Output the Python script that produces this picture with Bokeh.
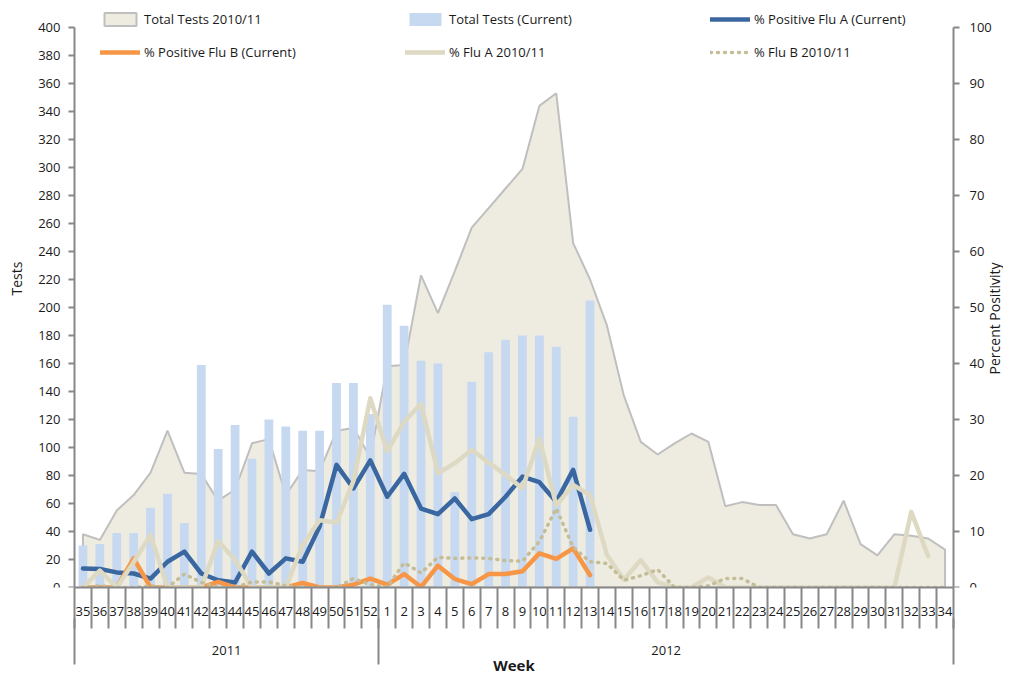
import math
from bokeh.plotting import figure
from bokeh.models import Range1d, LinearAxis, FixedTicker, Legend, LegendItem, Label
from bokeh.embed import file_html
from bokeh.resources import INLINE

# ---------------- data ----------------
weeks = [str(w) for w in list(range(35, 53)) + list(range(1, 35))]
years = ["2011", "2012"]
year_sizes = [18, 34]

tests_prev = [38, 34, 55, 66, 82, 112, 82, 81, 62, 70, 103, 106, 66, 84, 83, 112, 114, 93,
              158, 159, 223, 196, 226, 257, 271, 285, 299, 344, 353, 246, 220, 187, 137, 104,
              95, 103, 110, 104, 58, 61, 59, 59, 38, 35, 38, 62, 31, 23, 38, 37, 35, 27]
tests_cur = [30, 31, 39, 39, 57, 67, 46, 159, 99, 116, 92, 120, 115, 112, 112, 146, 146, 124,
             202, 187, 162, 160, 68, 147, 168, 177, 180, 180, 172, 122, 205]
flu_a_cur = [3.4, 3.3, 2.7, 2.5, 1.6, 4.6, 6.4, 2.5, 1.3, 0.9, 6.4, 2.5, 5.2, 4.6, 10.9, 21.9,
             17.7, 22.7, 16.2, 20.3, 14.1, 13.1, 15.9, 12.2, 13.1, 16.2, 19.8, 18.8, 15.3, 21.0, 10.3]
flu_b_cur = [0, 0, 0, 5.2, 0, 0, 0, 0, 1.0, 0, 0, 0, 0, 0.8, 0, 0, 0.5, 1.6,
             0.5, 2.4, 0.1, 3.9, 1.5, 0.6, 2.4, 2.4, 2.9, 6.1, 5.1, 7.0, 2.2]
flu_a_prev = [0, 3.0, 0, 4.5, 9.4, 0, 0, 0, 8.3, 4.9, 0, 0, 0, 7.6, 12.0, 11.6, 19.0, 33.8,
              24.3, 29.6, 32.8, 20.4, 22.2, 24.6, 22.3, 20.1, 17.7, 26.6, 14.7, 18.3, 16.5, 5.8,
              1.4, 4.9, 0.9, 0, 0, 1.8, 0, 0, 0, 0, 0, 0, 0, 0, 0, 0, 0, 13.5, 5.6]
flu_b_prev = [0, 0.3, 0, 0, 0.3, 0, 2.4, 0.9, 0, 0, 1.0, 1.0, 0.3, 0, 0, 0, 1.6, 0.5,
              0.1, 4.4, 2.6, 5.4, 5.2, 5.3, 5.2, 4.8, 4.7, 8.2, 14.1, 7.2, 4.6, 4.3, 1.3, 2.1,
              3.2, 0, 0, 0.3, 1.6, 1.6, 0, 0, 0, 0, 0, 0, 0, 0, 0, 0, 0, 0]

TESTS_MAX = 400
PCT_MAX = 100
FONT = "Open Sans"
AXIS_GRAY = "#878787"
TEXT = "#1a1a1a"

# ---------------- layout (pixels) ----------------
W, H = 1003, 677
TOP, BOTTOM = 2, 90
PLOT_LEFT = 74                      # pixel of the left value axis
PLOT_W = 879                        # pixels spanned by the 52 weeks
AXIS_H = 560                        # pixels spanned by 0..400
FRAME_H = H - TOP - BOTTOM
n = len(weeks)
cat_w = PLOT_W / n
x_lo = -PLOT_LEFT / cat_w
x_hi = (W - PLOT_LEFT) / cat_w
head = FRAME_H / AXIS_H

def px_x(px):           # canvas x pixel -> x data
    return (px - PLOT_LEFT) / cat_w

def px_y(py, vmax):     # canvas y pixel -> value on an axis of 0..vmax
    return (TOP + FRAME_H - py) / AXIS_H * vmax

centers = [i + 0.5 for i in range(n)]

p = figure(width=W, height=H, output_backend="svg", toolbar_location=None,
           x_range=Range1d(x_lo, x_hi), y_range=Range1d(0, TESTS_MAX * head),
           min_border_left=0, min_border_right=0, min_border_top=TOP,
           min_border_bottom=BOTTOM, x_axis_location=None, y_axis_location=None)
p.extra_y_ranges = {"pct": Range1d(0, PCT_MAX * head)}
p.outline_line_color = None
p.xgrid.grid_line_color = None
p.ygrid.grid_line_color = None
p.background_fill_color = "white"

# ---------------- glyphs ----------------
area_x = [centers[0]] + centers + [centers[-1]]
area_y = [0] + tests_prev + [0]
r_area = p.patch(area_x, area_y, fill_color="#EEECE1", line_color="#BFBFBF", line_width=2)
r_bar = p.vbar(x=centers[:len(tests_cur)], top=tests_cur, width=0.52,
               fill_color="#C6D9F1", line_color=None)
r_a = p.line(centers[:len(flu_a_cur)], flu_a_cur, y_range_name="pct", line_color="#3A67A0",
             line_width=4.5, line_join="round", line_cap="round")
r_b = p.line(centers[:len(flu_b_cur)], flu_b_cur, y_range_name="pct", line_color="#F79646",
             line_width=4.5, line_join="round", line_cap="round")
r_ap = p.line(centers[:len(flu_a_prev)], flu_a_prev, y_range_name="pct", line_color="#DDD9C3",
              line_width=4.5, line_join="round", line_cap="round")
r_bp = p.line(centers[:len(flu_b_prev)], flu_b_prev, y_range_name="pct", line_color="#C4BD97",
              line_width=3.5, line_dash="1 6", line_cap="round")

# ---------------- axes ----------------
def style_axis(ax):
    ax.axis_line_color = AXIS_GRAY
    ax.axis_line_width = 2
    ax.major_tick_line_color = AXIS_GRAY
    ax.major_tick_line_width = 2
    ax.major_tick_in = 0
    ax.minor_tick_in = 0
    ax.major_label_text_font = FONT
    ax.major_label_text_font_size = "13px"
    ax.major_label_text_color = TEXT

yl = LinearAxis(ticker=FixedTicker(ticks=list(range(0, TESTS_MAX + 1, 20))),
                bounds=(0, TESTS_MAX), fixed_location=0)
style_axis(yl)
yl.major_tick_out = 6
yl.minor_tick_line_color = None
yl.major_label_standoff = 8
p.add_layout(yl, "left")

yr = LinearAxis(y_range_name="pct", ticker=FixedTicker(ticks=list(range(0, PCT_MAX + 1, 10))),
                bounds=(0, PCT_MAX), fixed_location=n)
style_axis(yr)
yr.major_tick_out = 6
yr.minor_tick_line_color = None
yr.major_label_standoff = 10
p.add_layout(yr, "right")

# week level
xw = LinearAxis(ticker=FixedTicker(ticks=centers, minor_ticks=list(range(n + 1))),
                major_label_overrides={c: w for c, w in zip(centers, weeks)}, bounds=(0, n))
style_axis(xw)
xw.major_tick_line_color = None
xw.major_tick_out = 0
xw.minor_tick_out = 41
xw.minor_tick_line_color = AXIS_GRAY
xw.minor_tick_line_width = 2
xw.major_label_standoff = -22
p.add_layout(xw, "below")

# year level
bounds = [0]
for s in year_sizes:
    bounds.append(bounds[-1] + s)
ymid = [(bounds[i] + bounds[i + 1]) / 2 for i in range(len(years))]
xy = LinearAxis(ticker=FixedTicker(ticks=ymid, minor_ticks=bounds),
                major_label_overrides={m: y for m, y in zip(ymid, years)}, bounds=(0, n))
style_axis(xy)
xy.axis_line_color = None
xy.major_tick_line_color = None
xy.major_tick_out = 0
xy.minor_tick_out = 46
xy.minor_tick_line_color = AXIS_GRAY
xy.minor_tick_line_width = 2
xy.major_label_standoff = -19
p.add_layout(xy, "below")

# axis title "Week", centred on the week span
xt = LinearAxis(ticker=FixedTicker(ticks=[n / 2], minor_ticks=[]),
                major_label_overrides={n / 2: "Week"}, bounds=(0, n))
style_axis(xt)
xt.axis_line_color = None
xt.major_tick_line_color = None
xt.minor_tick_line_color = None
xt.major_tick_out = 0
xt.minor_tick_out = 0
xt.major_label_standoff = -3
xt.major_label_text_font_style = "bold"
xt.major_label_text_font_size = "15px"
p.add_layout(xt, "below")

# vertical axis titles
p.add_layout(Label(x=px_x(16), y=px_y(278, TESTS_MAX), text="Tests", angle=math.pi / 2,
                   text_align="center", text_baseline="middle", text_font=FONT,
                   text_font_size="14px", text_color=TEXT))
p.add_layout(Label(x=px_x(994), y=px_y(318, PCT_MAX), y_range_name="pct",
                   text="Percent Positivity", angle=math.pi / 2,
                   text_align="center", text_baseline="middle", text_font=FONT,
                   text_font_size="14px", text_color=TEXT))

# ---------------- legend ----------------
legend = Legend(items=[
    LegendItem(label="Total Tests 2010/11", renderers=[r_area]),
    LegendItem(label="Total Tests (Current)", renderers=[r_bar]),
    LegendItem(label="% Positive Flu A (Current)", renderers=[r_a]),
    LegendItem(label="% Positive Flu B (Current)", renderers=[r_b]),
    LegendItem(label="% Flu A 2010/11", renderers=[r_ap]),
    LegendItem(label="% Flu B 2010/11", renderers=[r_bp]),
], orientation="horizontal", ncols=3, location=(100, 526))
legend.background_fill_alpha = 0
legend.border_line_color = None
legend.padding = 0
legend.margin = 0
legend.spacing = 15
legend.glyph_width = 40
legend.glyph_height = 16
legend.label_height = 18
legend.label_width = 246
legend.label_standoff = 4
legend.label_text_font = FONT
legend.label_text_font_size = "13px"
legend.label_text_color = TEXT
p.add_layout(legend, "center")

open("out.html", "w").write(file_html(p, INLINE))
